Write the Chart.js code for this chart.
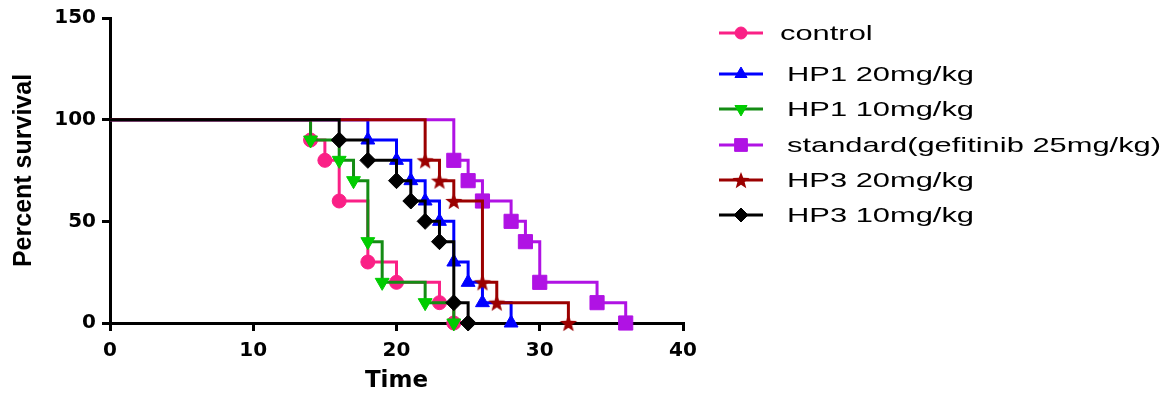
<!DOCTYPE html>
<html>
<head>
<meta charset="utf-8">
<script src="https://cdn.jsdelivr.net/npm/chart.js@4/dist/chart.umd.min.js"></script>
<style>
  html, body { margin: 0; padding: 0; background: #fff; }
</style>
</head>
<body>
<canvas id="survivalChart" width="1174" height="396"></canvas>
<script>
// Kaplan-Meier data (day of death, percent surviving after it)
const seriesNames = ['control', 'HP1 20mg/kg', 'HP1 10mg/kg', 'standard(gefitinib 25mg/kg)', 'HP3 20mg/kg', 'HP3 10mg/kg'];

const controlDays = [0, 14, 15, 16, 18, 20, 23, 24];
const controlSurvival = [100, 90, 80, 60, 30, 20, 10, 0];

const hp1HighDays = [0, 18, 20, 21, 22, 23, 24, 25, 26, 28];
const hp1HighSurvival = [100, 90, 80, 70, 60, 50, 30, 20, 10, 0];

const hp1LowDays = [0, 14, 16, 17, 18, 19, 22, 24];
const hp1LowSurvival = [100, 90, 80, 70, 40, 20, 10, 0];

const standardDays = [0, 24, 25, 26, 28, 29, 30, 34, 36];
const standardSurvival = [100, 80, 70, 60, 50, 40, 20, 10, 0];

const hp3HighDays = [0, 22, 23, 24, 26, 27, 32];
const hp3HighSurvival = [100, 80, 70, 60, 20, 10, 0];

const hp3LowDays = [0, 16, 18, 20, 21, 22, 23, 24, 25];
const hp3LowSurvival = [100, 90, 80, 70, 60, 50, 40, 10, 0];

const xTicks = [0, 10, 20, 30, 40];
const yTicks = [0, 50, 100, 150];

const allDays = [controlDays, hp1HighDays, hp1LowDays, standardDays, hp3HighDays, hp3LowDays];
const allSurvival = [controlSurvival, hp1HighSurvival, hp1LowSurvival, standardSurvival, hp3HighSurvival, hp3LowSurvival];

// filled five point star, Chart.js 'star' is only an asterisk
function starImage(color, r) {
  const c = document.createElement('canvas');
  const s = Math.ceil(r * 2) + 2;
  c.width = s; c.height = s;
  const g = c.getContext('2d');
  g.translate(s / 2, s / 2 + r * 0.1);
  g.beginPath();
  for (let i = 0; i < 10; i++) {
    const rr = i % 2 ? r * 0.42 : r;
    const a = -Math.PI / 2 + i * Math.PI / 5;
    g.lineTo(rr * Math.cos(a), rr * Math.sin(a));
  }
  g.closePath();
  g.fillStyle = color;
  g.fill();
  return c;
}

const looks = [
  { line: '#fa2086', mark: '#fa2086', style: 'circle', radius: 7, rotation: 0 },
  { line: '#0000ff', mark: '#0000ff', style: 'triangle', radius: 8, rotation: 0 },
  { line: '#148c14', mark: '#00cc00', style: 'triangle', radius: 8, rotation: 180 },
  { line: '#b012e4', mark: '#b012e4', style: 'rect', radius: 10, rotation: 0 },
  { line: '#9b0000', mark: '#9b0000', style: starImage('#9b0000', 9), radius: 8, rotation: 0 },
  { line: '#000000', mark: '#000000', style: 'rectRot', radius: 8, rotation: 0 }
];

const datasets = seriesNames.map((name, i) => {
  const lk = looks[i];
  return {
    label: name,
    data: allDays[i].map((d, j) => ({ x: d, y: allSurvival[i][j] })),
    stepped: 'before',
    borderColor: lk.line,
    borderWidth: 3,
    fill: false,
    clip: false,
    order: seriesNames.length - 1 - i, // later groups sit on top
    pointStyle: lk.style,
    pointRotation: lk.rotation,
    pointBackgroundColor: lk.mark,
    pointBorderColor: lk.mark,
    pointBorderWidth: 1,
    pointRadius: c => (c.dataIndex === 0 ? 0 : lk.radius)
  };
});

// legend drawn by hand: line with the marker in the middle, like the original
const legendRowsY = [33, 74, 109, 145, 180, 215];
const sideLegend = {
  id: 'sideLegend',
  afterDraw(chart) {
    const ctx = chart.ctx;
    seriesNames.forEach((name, i) => {
      const lk = looks[i];
      const y = legendRowsY[i];
      ctx.save();
      ctx.strokeStyle = lk.line;
      ctx.lineWidth = 3;
      ctx.beginPath();
      ctx.moveTo(719, y);
      ctx.lineTo(763, y);
      ctx.stroke();
      ctx.fillStyle = lk.mark;
      ctx.strokeStyle = lk.mark;
      ctx.lineWidth = 1;
      Chart.helpers.drawPoint(ctx, { pointStyle: lk.style, radius: lk.radius - 1, rotation: lk.rotation, borderWidth: 1 }, 741, y);
      ctx.fillStyle = '#000';
      ctx.font = '21px "Liberation Sans", Arial, sans-serif';
      ctx.textBaseline = 'middle';
      ctx.translate(i === 0 ? 780 : 787, y + 1);
      ctx.scale(1.47, 1);
      ctx.fillText(name, 0, 0);
      ctx.restore();
    });
  }
};

const axisGrid = { drawOnChartArea: false, drawTicks: true, tickLength: 8, lineWidth: 3, color: '#000' };
const axisBorder = { display: true, color: '#000', width: 3 };
const tickFont = { family: '"DejaVu Sans", sans-serif', weight: 'bold', size: 20 };

new Chart(document.getElementById('survivalChart'), {
  type: 'line',
  data: { datasets },
  options: {
    responsive: false,
    animation: false,
    events: [],
    layout: { padding: { top: 18, right: 491, bottom: 0, left: 0 } },
    scales: {
      x: {
        type: 'linear',
        min: 0,
        max: 40,
        afterBuildTicks: s => { s.ticks = xTicks.map(v => ({ value: v })); },
        afterFit: s => { s.height = 73; },
        grid: axisGrid,
        border: axisBorder,
        ticks: { color: '#000', font: tickFont, padding: 8, maxRotation: 0 },
        title: {
          display: true,
          text: 'Time',
          color: '#000',
          font: { family: '"DejaVu Sans", sans-serif', weight: 'bold', size: 23 },
          padding: { top: 0, bottom: 1 }
        }
      },
      y: {
        type: 'linear',
        min: 0,
        max: 150,
        afterBuildTicks: s => { s.ticks = yTicks.map(v => ({ value: v })); },
        afterFit: s => { s.width = 110; },
        grid: axisGrid,
        border: axisBorder,
        ticks: { color: '#000', font: tickFont, padding: 6 },
        title: {
          display: true,
          text: 'Percent survival',
          color: '#000',
          font: { family: '"Liberation Sans", Arial, sans-serif', weight: 'bold', size: 25 },
          padding: { top: 9, bottom: 0 }
        }
      }
    },
    plugins: {
      legend: { display: false },
      tooltip: { enabled: false }
    }
  },
  plugins: [sideLegend]
});
</script>
</body>
</html>
